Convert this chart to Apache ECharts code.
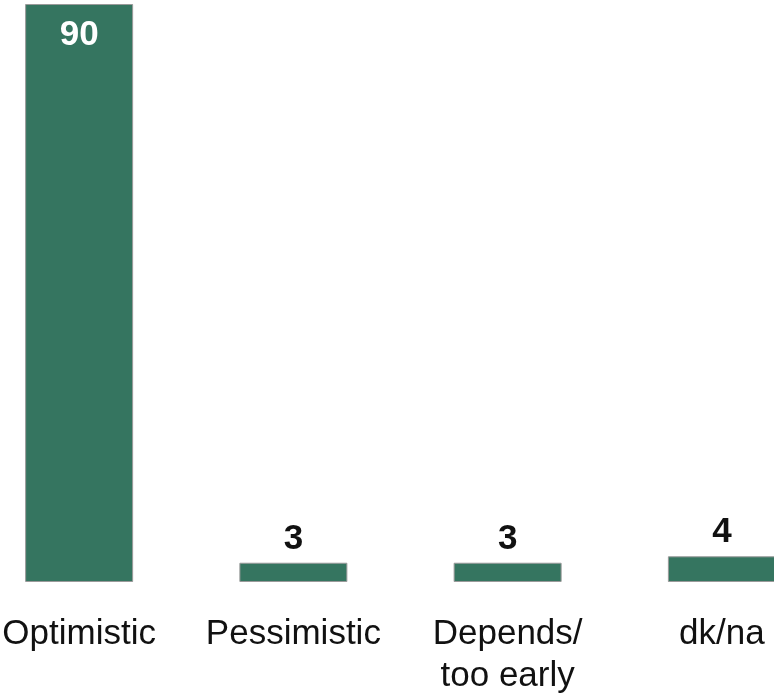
<!DOCTYPE html>
<html>
<head>
<meta charset="utf-8">
<script src="https://cdn.jsdelivr.net/npm/echarts@6/dist/echarts.min.js"></script>
<style>
  html, body { margin: 0; padding: 0; background: #fff; overflow: hidden; }
  #wrap { width: 774px; height: 700px; overflow: hidden; position: relative; }
  /* the plot runs past both page edges, so the canvas is wider than the page */
  #chart { position: absolute; left: -28px; top: 0; width: 857px; height: 700px; }
</style>
</head>
<body>
<div id="wrap"><div id="chart"></div></div>
<script>
// Survey outlook shares (%)
const categories = ['Optimistic', 'Pessimistic', 'Depends/\ntoo early', 'dk/na'];
const values = [90, 3, 3, 4];

const FONT = '"Liberation Sans Narrow", "Arial Narrow", "Liberation Sans", Arial, sans-serif';
const BAR = '#357560';

const chart = echarts.init(document.getElementById('chart'));
chart.setOption({
  animation: false,
  grid: { left: 0, right: 0, top: 4, bottom: 118, containLabel: false },
  xAxis: {
    type: 'category',
    data: categories,
    axisLine: { show: false },
    axisTick: { show: false },
    axisLabel: {
      color: '#111',
      fontFamily: FONT,
      fontSize: 35,
      lineHeight: 42,
      margin: 31,
      interval: 0
    }
  },
  yAxis: {
    type: 'value',
    min: 0,
    max: 90,
    show: false,
    splitLine: { show: false }
  },
  series: [{
    type: 'bar',
    data: values.map((v, i) => ({
      value: v,
      label: i === 0
        ? { position: 'insideTop', distance: 14, color: '#fff' }
        : { position: 'top', distance: 6, color: '#111' }
    })),
    barWidth: 108,
    itemStyle: { color: BAR, borderColor: '#9a9a9a', borderWidth: 1 },
    label: {
      show: true,
      fontFamily: FONT,
      fontWeight: 'bold',
      fontSize: 35
    }
  }]
});
</script>
</body>
</html>
